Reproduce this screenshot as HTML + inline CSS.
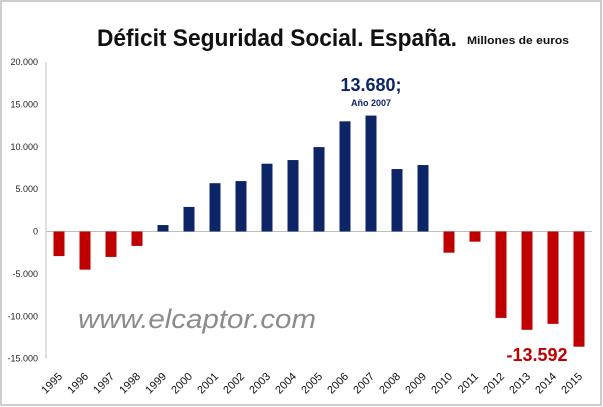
<!DOCTYPE html>
<html><head><meta charset="utf-8"><style>
html,body{margin:0;padding:0;background:#fff;}
svg{display:block;font-family:"Liberation Sans",sans-serif;}
</style></head><body>
<svg id="chart" width="603" height="407" viewBox="0 0 603 407">
<rect x="1" y="1" width="600" height="404" fill="#fff" stroke="#bdbdbd" stroke-width="1.5"/>
<text x="97" y="46" font-size="24" font-weight="bold" fill="#111" textLength="360" lengthAdjust="spacingAndGlyphs">Déficit Seguridad Social. España.</text>
<text x="467" y="44" font-size="11" font-weight="bold" fill="#111" textLength="102" lengthAdjust="spacingAndGlyphs">Millones de euros</text>
<g id="yaxis"></g>
<g id="bars"></g>
<g id="xaxis"></g>
<text x="78" y="328" font-size="27" font-style="italic" fill="#8c8c8c" textLength="238" lengthAdjust="spacingAndGlyphs">www.elcaptor.com</text>
<text x="371" y="91" font-size="18" font-weight="bold" fill="#0d2466" text-anchor="middle">13.680;</text>
<text x="371" y="106" font-size="9" font-weight="bold" fill="#0d2466" text-anchor="middle">Año 2007</text>
<text x="537" y="361" font-size="18" font-weight="bold" fill="#c00000" text-anchor="middle">-13.592</text>
</svg>
<script>
const years=["1995","1996","1997","1998","1999","2000","2001","2002","2003","2004","2005","2006","2007","2008","2009","2010","2011","2012","2013","2014","2015"];
const values=[-2900,-4500,-3000,-1700,760,2900,5700,5950,8000,8430,9960,13000,13680,7370,7840,-2500,-1200,-10200,-11600,-10900,-13592];
const yTicks=[20000,15000,10000,5000,0,-5000,-10000,-15000];
const yTickLabels=["20.000","15.000","10.000","5.000","0","-5.000","-10.000","-15.000"];
const NS="http://www.w3.org/2000/svg";
function y(v){return 231.5-v*(169.5/20000);}
function x(i){return 59+i*26;}
const ya=document.getElementById('yaxis'),ba=document.getElementById('bars'),xa=document.getElementById('xaxis');
let l=document.createElementNS(NS,'line');
l.setAttribute('x1',46);l.setAttribute('x2',46);l.setAttribute('y1',y(20000));l.setAttribute('y2',y(-15000));
l.setAttribute('stroke','#bfbfbf');


ya.appendChild(l);
let z=document.createElementNS(NS,'line');
z.setAttribute('x1',46);z.setAttribute('x2',592);z.setAttribute('y1',y(0));z.setAttribute('y2',y(0));
z.setAttribute('stroke','#bfbfbf');


ya.appendChild(z);
yTicks.forEach((t,i)=>{
 const e=document.createElementNS(NS,'text');
 e.setAttribute('x',38);e.setAttribute('y',y(t)+3);e.setAttribute('text-anchor','end');
 e.setAttribute('font-size','9');e.setAttribute('fill','#222');
 e.textContent=yTickLabels[i];
 
 
 ya.appendChild(e);
});
values.forEach((v,i)=>{
 const r=document.createElementNS(NS,'rect');
 r.setAttribute('x',x(i)-5.5);r.setAttribute('width',11);
 r.setAttribute('y',Math.min(y(v),y(0)));r.setAttribute('height',Math.abs(y(v)-y(0)));
 r.setAttribute('fill',v>=0?'#0d2466':'#c00000');
 
 
 ba.appendChild(r);
});
years.forEach((yr,i)=>{
 const e=document.createElementNS(NS,'text');
 const cx=x(i)+4,cy=377;
 e.setAttribute('x',cx);e.setAttribute('y',cy);e.setAttribute('text-anchor','end');
 e.setAttribute('font-size','11');e.setAttribute('fill','#111');
 e.setAttribute('transform','rotate(-45 '+cx+' '+cy+')');
 e.textContent=yr;
 
 
 xa.appendChild(e);
});
</script>
</body></html>
